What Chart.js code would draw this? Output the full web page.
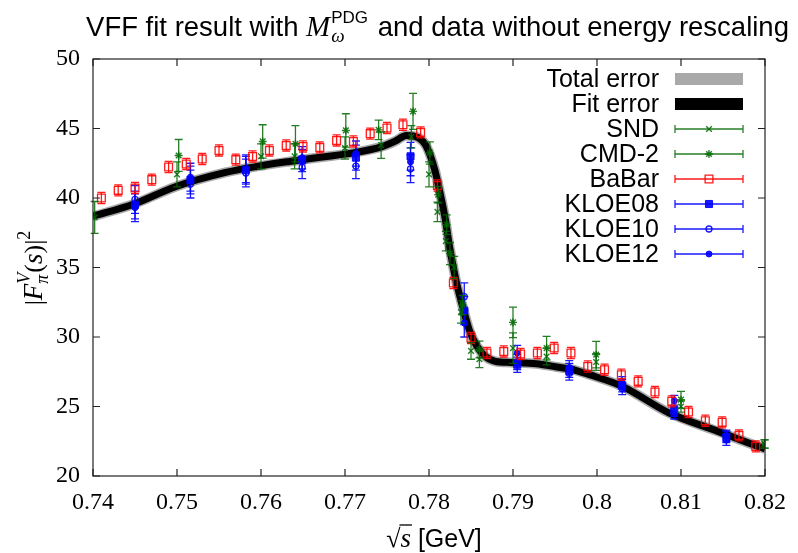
<!DOCTYPE html>
<html>
<head>
<meta charset="utf-8">
<script src="https://cdn.jsdelivr.net/npm/chart.js@4/dist/chart.umd.min.js"></script>
<style>
html, body { margin: 0; padding: 0; background: #fff; }
#wrap { width: 798px; height: 553px; }
</style>
</head>
<body>
<div id="wrap"><canvas id="chart"></canvas></div>
<script>
// fit curve, central value
const fitX = [0.7400, 0.7448, 0.7499, 0.7558, 0.7595, 0.7634, 0.7673, 0.7710, 0.7744, 0.7760, 0.7773, 0.7787,
  0.7797, 0.7807, 0.7813, 0.7819, 0.7825, 0.7832, 0.7840, 0.7848, 0.7856, 0.7867, 0.7879, 0.7897, 0.7928,
  0.7952, 0.7968, 0.7991, 0.8030, 0.8086, 0.8144, 0.8197, 0.8200];
const fitY = [38.68, 39.55, 40.83, 41.84, 42.27, 42.63, 42.95, 43.25, 43.7, 44.1, 44.5, 44.35,
  43.7, 42.0, 40.4, 38.6, 36.3, 34.1, 32.2, 30.5, 29.45, 28.6, 28.25, 28.17, 28.08,
  27.84, 27.7, 27.29, 26.45, 24.53, 23.21, 22.01, 21.95];

// SND
const sndX = [0.7402, 0.7500, 0.7600, 0.7640, 0.7700, 0.7743, 0.7779, 0.7800, 0.7810, 0.7820, 0.7830, 0.7838,
  0.7850, 0.7860, 0.7900, 0.7940, 0.7999, 0.8100, 0.8199];
const sndY = [38.6, 41.7, 43.0, 43.0, 43.6, 43.8, 44.4, 41.7, 39.0, 36.9, 35.0, 31.8,
  29.0, 28.4, 29.2, 28.6, 28.2, 25.0, 22.3];
const sndErr = [1.15, 0.9, 0.9, 0.9, 0.8, 0.95, 0.8, 0.9, 0.7, 0.7, 0.8, 0.8,
  0.6, 0.6, 1.1, 0.6, 0.6, 0.4, 0.3];

// CMD-2
const cmdX = [0.7502, 0.7602, 0.7641, 0.7701, 0.7740, 0.7781, 0.7801, 0.7811, 0.7821, 0.7825, 0.7840,
  0.7860, 0.7900, 0.7940, 0.7999, 0.8100, 0.8200];
const cmdY = [43.06, 44.07, 43.9, 44.86, 44.9, 46.23, 43.24, 40.24, 38.08, 36.0, 32.3,
  29.1, 31.05, 29.2, 28.73, 25.49, 22.3];
const cmdErr = [1.15, 1.2, 1.3, 1.2, 0.7, 1.3, 0.8, 0.6, 0.7, 0.8, 0.7,
  0.6, 1.1, 0.85, 0.95, 0.6, 0.3];

// BaBar
const babarX = [0.7410, 0.7430, 0.7450, 0.7470, 0.7490, 0.7511, 0.7530, 0.7550, 0.7570, 0.7590, 0.7610, 0.7630,
  0.7650, 0.7670, 0.7690, 0.7710, 0.7730, 0.7750, 0.7769, 0.7790, 0.7810, 0.7829, 0.7850, 0.7869,
  0.7889, 0.7909, 0.7929, 0.7949, 0.7969, 0.7989, 0.8009, 0.8029, 0.8049, 0.8069, 0.8089, 0.8109,
  0.8129, 0.8149, 0.8169, 0.8189];
const babarY = [40.0, 40.55, 40.72, 41.32, 42.23, 42.45, 42.8, 43.42, 42.76, 42.99, 43.42, 43.78,
  43.71, 43.64, 44.14, 44.07, 44.63, 45.04, 45.27, 44.72, 40.9, 33.88, 29.93, 28.85,
  28.96, 28.78, 28.85, 29.21, 28.85, 27.88, 27.65, 27.29, 26.81, 26.04, 25.37, 24.6,
  23.98, 23.86, 22.92, 22.13];
const babarErr = 0.4;

// KLOE
const kloeX = [0.7450, 0.7516, 0.7582, 0.7649, 0.7713, 0.7778, 0.7842, 0.7905, 0.7967, 0.8030, 0.8092, 0.8154];
const kloe08Y = [39.5, 41.3, 42.0, 42.7, 42.9, 43.0, 31.9, 28.0, 27.6, 26.5, 24.7, 22.8];
const kloe10Y = [39.9, 41.0, 41.8, 42.2, 42.3, 42.1, 32.9, 28.2, 27.4, 26.3, 24.5, 22.6];
const kloe12Y = [39.3, 41.5, 42.1, 42.9, 43.2, 42.6, 31.0, 28.85, 27.8, 26.7, 25.4, 22.9];
const kloeErr = [1.0, 1.0, 1.0, 0.8, 0.9, 1.0, 1.0, 0.55, 0.5, 0.45, 0.4, 0.4];

const xTicks = [0.74, 0.82, 0.01];
const yTicks = [20, 50, 5];

const green = 'rgba(0,105,0,0.85)';
const red = 'rgba(255,0,0,0.9)';
const blue = 'rgba(0,0,255,0.9)';

function pts(xs, ys) { return xs.map((x, i) => ({x: x, y: ys[i]})); }
function errs(e, n) { return Array.isArray(e) ? e : new Array(n).fill(e); }

const datasets = [
  {label: 'SND', data: pts(sndX, sndY), errors: sndErr, borderColor: green, backgroundColor: green,
   pointStyle: 'crossRot', pointRadius: 4, borderWidth: 1.4, order: 1},
  {label: 'CMD-2', data: pts(cmdX, cmdY), errors: cmdErr, borderColor: green, backgroundColor: green,
   pointStyle: 'star', pointRadius: 4, borderWidth: 1.4, order: 2},
  {label: 'BaBar', data: pts(babarX, babarY), errors: errs(babarErr, babarX.length), borderColor: red,
   backgroundColor: 'rgba(0,0,0,0)', pointStyle: 'rect', pointRadius: 5.5, borderWidth: 1.3, order: 3},
  {label: 'KLOE08', data: pts(kloeX, kloe08Y), errors: kloeErr, borderColor: blue, backgroundColor: blue,
   pointStyle: 'rect', pointRadius: 5, borderWidth: 1, order: 4},
  {label: 'KLOE10', data: pts(kloeX, kloe10Y), errors: kloeErr, borderColor: blue, backgroundColor: 'rgba(0,0,0,0)',
   pointStyle: 'circle', pointRadius: 3, borderWidth: 1.3, order: 5},
  {label: 'KLOE12', data: pts(kloeX, kloe12Y), errors: kloeErr, borderColor: blue, backgroundColor: blue,
   pointStyle: 'circle', pointRadius: 3, borderWidth: 1, order: 6},
  {label: 'Fit error', type: 'line', data: pts(fitX, fitY), borderColor: '#000', borderWidth: 7,
   pointRadius: 0, showLine: true, cubicInterpolationMode: 'monotone', order: 10},
  {label: 'Total error', type: 'line', data: pts(fitX, fitY), borderColor: '#a9a9a9', borderWidth: 10,
   pointRadius: 0, showLine: true, cubicInterpolationMode: 'monotone', order: 11}
];

const legendOrder = ['Total error', 'Fit error', 'SND', 'CMD-2', 'BaBar', 'KLOE08', 'KLOE10', 'KLOE12'];

// error bars drawn under each set of markers
const errorBars = {
  id: 'errorBars',
  beforeDatasetDraw(chart, args) {
    const ds = chart.data.datasets[args.index];
    if (!ds.errors) return;
    const ctx = chart.ctx, x = chart.scales.x, y = chart.scales.y;
    ctx.save();
    ctx.strokeStyle = ds.borderColor;
    ctx.lineWidth = 1.3;
    ds.data.forEach((p, i) => {
      const px = x.getPixelForValue(p.x);
      const top = y.getPixelForValue(p.y + ds.errors[i]);
      const bot = y.getPixelForValue(p.y - ds.errors[i]);
      ctx.beginPath();
      ctx.moveTo(px, top); ctx.lineTo(px, bot);
      ctx.moveTo(px - 4, top); ctx.lineTo(px + 4, top);
      ctx.moveTo(px - 4, bot); ctx.lineTo(px + 4, bot);
      ctx.stroke();
    });
    ctx.restore();
  }
};

const sans = px => px + 'px "Liberation Sans", Arial, sans-serif';
const serif = px => px + 'px "Liberation Serif", "DejaVu Serif", serif';
const serifI = px => 'italic ' + serif(px);

// gnuplot style frame, inward ticks, legend and titles
const decorations = {
  id: 'decorations',
  afterDraw(chart) {
    const ctx = chart.ctx, a = chart.chartArea;
    const sx = chart.scales.x, sy = chart.scales.y;
    ctx.save();
    ctx.strokeStyle = '#222';
    ctx.lineWidth = 1.2;
    ctx.strokeRect(a.left, a.top, a.right - a.left, a.bottom - a.top);
    ctx.beginPath();
    sx.ticks.forEach(t => {
      const px = sx.getPixelForValue(t.value);
      ctx.moveTo(px, a.bottom); ctx.lineTo(px, a.bottom - 7);
      ctx.moveTo(px, a.top); ctx.lineTo(px, a.top + 7);
    });
    sy.ticks.forEach(t => {
      const py = sy.getPixelForValue(t.value);
      ctx.moveTo(a.left, py); ctx.lineTo(a.left + 7, py);
      ctx.moveTo(a.right, py); ctx.lineTo(a.right - 7, py);
    });
    ctx.stroke();

    // legend
    ctx.font = sans(25);
    ctx.textAlign = 'right';
    ctx.textBaseline = 'middle';
    const textRight = 659, s0 = 675, s1 = 743, sm = 709;
    legendOrder.forEach((name, i) => {
      const ds = chart.data.datasets.find(d => d.label === name);
      const ly = 79 + i * 25;
      ctx.fillStyle = '#000';
      ctx.fillText(name, textRight, ly + 1);
      if (ds.type === 'line') {
        ctx.fillStyle = ds.borderColor;
        ctx.fillRect(s0, ly - 6, s1 - s0, 12);
      } else {
        ctx.strokeStyle = ds.borderColor;
        ctx.lineWidth = 1.3;
        ctx.beginPath();
        ctx.moveTo(s0, ly); ctx.lineTo(s1, ly);
        ctx.moveTo(s0, ly - 4); ctx.lineTo(s0, ly + 4);
        ctx.moveTo(s1, ly - 4); ctx.lineTo(s1, ly + 4);
        ctx.stroke();
        ctx.fillStyle = ds.backgroundColor;
        ctx.lineWidth = ds.borderWidth;
        Chart.helpers.drawPoint(ctx, {pointStyle: ds.pointStyle, radius: ds.pointRadius, rotation: 0,
          borderWidth: ds.borderWidth}, sm, ly);
      }
    });

    // title with the M_omega^PDG part
    ctx.textAlign = 'left';
    ctx.textBaseline = 'alphabetic';
    ctx.fillStyle = '#000';
    const t1 = 'VFF fit result with ', t2 = ' and data without energy rescaling';
    ctx.font = sans(27.5); const w1 = ctx.measureText(t1).width, w4 = ctx.measureText(t2).width;
    ctx.font = serifI(29); const wM = ctx.measureText('M').width;
    ctx.font = serifI(19); const wO = ctx.measureText('ω').width;
    ctx.font = sans(17); const wP = ctx.measureText('PDG').width;
    const wSub = Math.max(wO, wP) + 2;
    let x = 437 - (w1 + wM + wSub + w4) / 2;
    const base = 36;
    ctx.font = sans(27.5); ctx.fillText(t1, x, base); x += w1;
    ctx.font = serifI(29); ctx.fillText('M', x, base); x += wM + 1;
    ctx.font = serifI(19); ctx.fillText('ω', x, base + 6);
    ctx.font = sans(17); ctx.fillText('PDG', x, base - 13);
    x += wSub;
    ctx.font = sans(27.5); ctx.fillText(t2, x, base);

    // x axis title
    ctx.font = serif(26);
    const wRoot = ctx.measureText('√').width;
    ctx.font = serifI(27);
    const wS = ctx.measureText('s').width;
    ctx.font = sans(25);
    const wG = ctx.measureText(' [GeV]').width;
    let xx = 434 - (wRoot + wS + wG) / 2;
    const xb = 547;
    ctx.font = serif(26);
    ctx.fillText('√', xx, xb);
    ctx.lineWidth = 1.3;
    ctx.strokeStyle = '#000';
    ctx.beginPath();
    ctx.moveTo(xx + wRoot - 1, xb - 22); ctx.lineTo(xx + wRoot + wS + 1, xb - 22);
    ctx.stroke();
    xx += wRoot;
    ctx.font = serifI(27); ctx.fillText('s', xx, xb); xx += wS;
    ctx.font = sans(25); ctx.fillText(' [GeV]', xx, xb);

    // y axis title |F_pi^V(s)|^2
    ctx.translate(42, 268);
    ctx.rotate(-Math.PI / 2);
    const ys = [
      {t: '|', f: serif(26), dy: 0},
      {t: 'F', f: serifI(27), dy: 0},
      {t: 'V', f: serifI(18), dy: -12, stack: true},
      {t: '(', f: serif(26), dy: 0},
      {t: 's', f: serifI(27), dy: 0},
      {t: ')|', f: serif(26), dy: 0},
      {t: '2', f: serif(18), dy: -12}
    ];
    ctx.font = serifI(18);
    const wPi = ctx.measureText('π').width;
    let w = 0;
    ys.forEach(p => { ctx.font = p.f; p.w = ctx.measureText(p.t).width; w += p.w; });
    w += Math.max(0, wPi - ys[2].w);
    let yx = -w / 2;
    ys.forEach(p => {
      ctx.font = p.f;
      ctx.fillText(p.t, yx, p.dy);
      if (p.stack) {
        ctx.font = serifI(18);
        ctx.fillText('π', yx, 6);
        yx += Math.max(p.w, wPi);
      } else {
        yx += p.w;
      }
    });
    ctx.restore();
  }
};

new Chart(document.getElementById('chart'), {
  type: 'scatter',
  data: {datasets: datasets},
  plugins: [errorBars, decorations],
  options: {
    responsive: true,
    maintainAspectRatio: false,
    animation: false,
    devicePixelRatio: 1,
    layout: {padding: {top: 59, right: 25, left: 0, bottom: 0}},
    plugins: {legend: {display: false}, tooltip: {enabled: false}, title: {display: false}},
    scales: {
      x: {
        type: 'linear', min: xTicks[0], max: xTicks[1],
        grid: {display: false, drawTicks: false},
        border: {display: false},
        ticks: {stepSize: xTicks[2], padding: 12, color: '#000',
          font: {family: '"Liberation Serif", serif', size: 24},
          callback: v => String(+v.toFixed(2))},
        afterFit: s => { s.height = 77; }
      },
      y: {
        type: 'linear', min: yTicks[0], max: yTicks[1],
        grid: {display: false, drawTicks: false},
        border: {display: false},
        ticks: {stepSize: yTicks[2], padding: 13, color: '#000',
          font: {family: '"Liberation Serif", serif', size: 24}},
        afterFit: s => { s.width = 93; }
      }
    }
  }
});
</script>
</body>
</html>
